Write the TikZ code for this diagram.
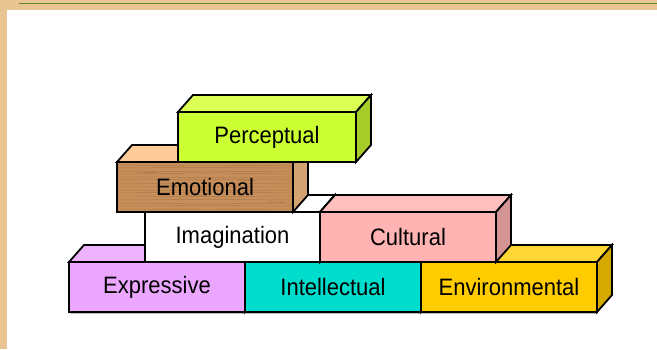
\documentclass[tikz,border=0pt]{standalone}
\usepackage{fontspec}
\setmainfont{Liberation Sans}
\begin{document}
\begin{tikzpicture}[x=1pt, y=-1pt,
  edge/.style={draw=black, line width=1.8pt, line join=miter},
  brick/.style={edge, rectangle, inner sep=0pt, outer sep=0pt,
    minimum width=176pt, minimum height=50pt, anchor=north west,
    font=\fontsize{22}{24}\selectfont},
  grain/.style={line width=0.5pt, draw=brown!70!black, opacity=0.35},
]
\definecolor{paper}{HTML}{E8C592}
\definecolor{rule}{HTML}{5F8A25}
\definecolor{percF}{HTML}{CCFF33}\definecolor{percT}{HTML}{DBFF55}\definecolor{percS}{HTML}{A6CC29}
\definecolor{emoF}{HTML}{C68E5A}\definecolor{emoT}{HTML}{FFCC99}\definecolor{emoS}{HTML}{D4A373}
\definecolor{cultF}{HTML}{FFB3B3}\definecolor{cultT}{HTML}{FFBFBF}\definecolor{cultS}{HTML}{D49494}
\definecolor{exprF}{HTML}{EBA6FF}\definecolor{exprT}{HTML}{EEB3FF}
\definecolor{intF}{HTML}{00DDCC}
\definecolor{envF}{HTML}{FFCC00}\definecolor{envT}{HTML}{FFD633}\definecolor{envS}{HTML}{D4A900}

% label text, set a little taller than its width
\newcommand\tall[1]{\scalebox{1}[1.08]{#1}}

% top and right faces of a brick, from the corners of its front node
\newcommand\brickfaces[3]{%
  \draw[edge, fill=#2] (#1.north west) -- ++(15,-17)
    -- ([shift={(15,-17)}]#1.north east) -- (#1.north east) -- cycle;
  \draw[edge, fill=#3] (#1.north east) -- ++(15,-17)
    -- ([shift={(15,-17)}]#1.south east) -- (#1.south east) -- cycle;
}

\useasboundingbox (0,0) rectangle (657,349);
% page frame
\fill[paper] (0,0) rectangle (657,349);
\fill[white] (7,10) rectangle (657,349);
\draw[rule, line width=1.6pt] (19,3.6) -- (657,3.6);

% shadow under the bottom row
\draw[black!25, line width=1.2pt] (70,313.5) -- (598,313.5);

% bottom row
\node[brick, fill=exprF] (expr) at (69,262) {\tall{Expressive}};
\brickfaces{expr}{exprT}{exprF}
\node[brick, fill=intF] (intel) at (245,262) {\tall{Intellectual}};
\brickfaces{intel}{intF}{intF}
\node[brick, fill=envF] (env) at (421,262) {\tall{Environmental}};
\brickfaces{env}{envT}{envS}

% middle row
\node[brick, fill=white, minimum width=175pt] (imag) at (145,212) {\tall{Imagination}};
\brickfaces{imag}{white}{white}
\node[brick, fill=cultF] (cult) at (320,212) {\tall{Cultural}};
\brickfaces{cult}{cultT}{cultS}

% wooden brick
\node[brick, fill=emoF, path picture={
    \foreach \yy/\a in {3/1,6/-0.6,9/0.8,12/-1,15/0.5,18/-0.8,21/1,25/-0.5,
                        28/0.7,31/-1,34/0.6,38/-0.7,41/1,44/-0.4,47/0.8}
      \draw[grain] ([shift={(0,\yy)}]path picture bounding box.north west)
        -- ++(90,\a) -- ++(90,-\a);
    \foreach \xx/\yy in {20/10,70/33,120/18,150/40,45/24}
      \draw[grain, opacity=0.5] ([shift={(\xx,\yy)}]path picture bounding box.north west)
        -- ++(18,0.4);
  }] (emo) at (117,162) {\tall{Emotional}};
\brickfaces{emo}{emoT}{emoS}

% top brick
\node[brick, fill=percF, minimum width=178pt] (perc) at (178,112) {\tall{Perceptual}};
\brickfaces{perc}{percT}{percS}
\end{tikzpicture}
\end{document}
